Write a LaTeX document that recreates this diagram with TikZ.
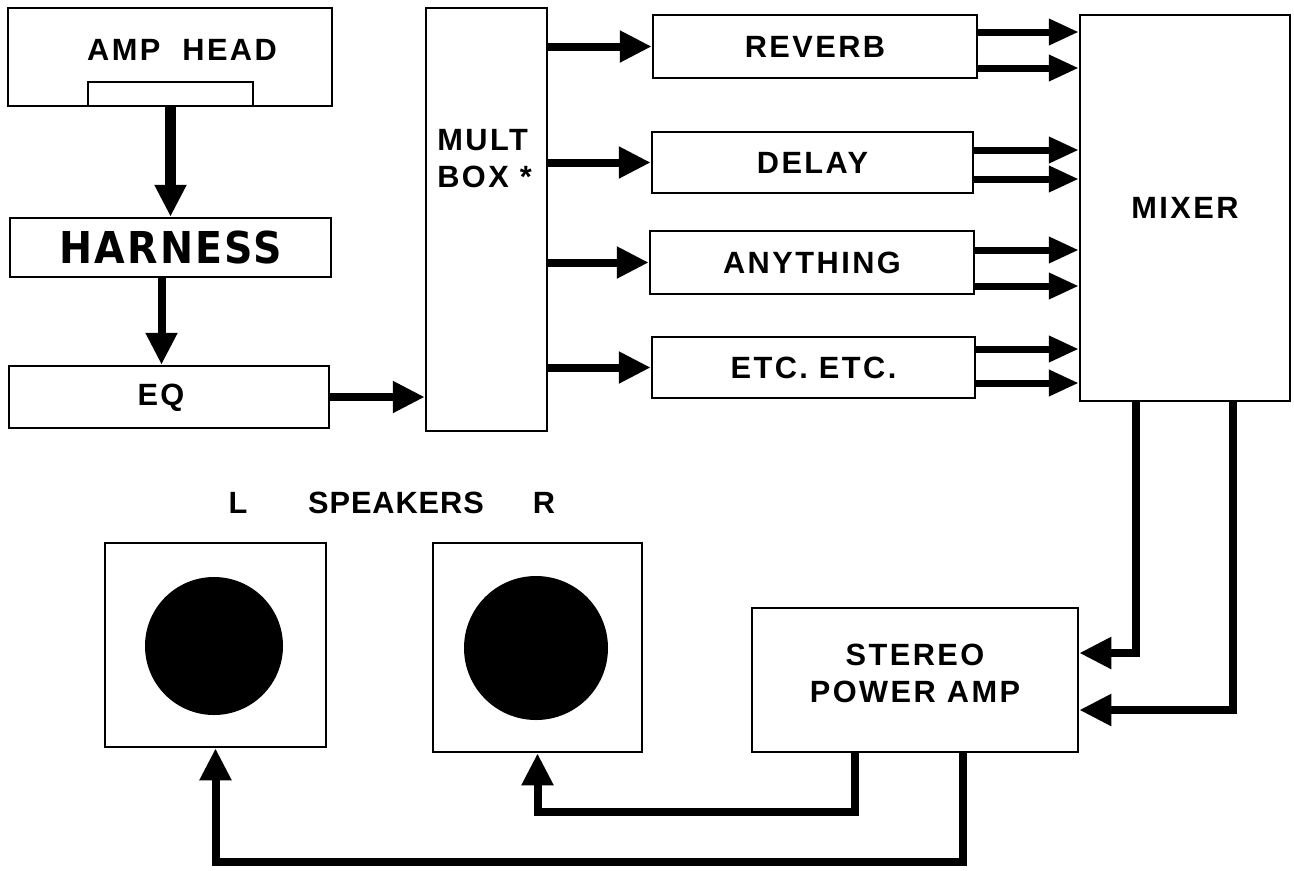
\documentclass[tikz,border=0pt]{standalone}
\usepackage{fontspec}
\setmainfont{Liberation Sans}
\newfontfamily\harnessfont{DejaVu Sans Condensed}
\usetikzlibrary{arrows.meta,calc}
\newcommand\lbl{\fontsize{17.5}{21}\selectfont\bfseries\addfontfeatures{LetterSpace=8}}
\tikzset{
  blk/.style 2 args={draw,line width=0.05cm,inner sep=0pt,fill=white,
    minimum width=#1*0.02cm,minimum height=#2*0.02cm,font=\lbl},
  cone/.style={circle,fill=black,inner sep=0pt,minimum size=#1*0.02cm},
  tag/.style={inner sep=0pt,font=\lbl},
  feed/.style={line width=0.16cm,-{Triangle[length=0.64cm,width=0.6cm]}},
  send/.style={line width=0.14cm,-{Triangle[length=0.6cm,width=0.5cm]}},
}
\begin{document}
\begin{tikzpicture}[x=0.02cm,y=-0.02cm]
  \useasboundingbox (0,0) rectangle (1294,870);
  % chain on the left
  \node[blk={324}{98}] (amphead) at (170,57) {};
  \node[tag] (ampheadtxt) at (182,50) {AMP\ \ HEAD};
  \node[blk={165}{24}] (jack) at (170.5,94) {};
  \node[blk={321}{59},font=\harnessfont\fontsize{25}{30}\selectfont\bfseries\addfontfeatures{LetterSpace=5}] (harness) at (170.5,247.5) {HARNESS};
  \node[blk={320}{62}] (eq) at (169,397) {};
  \node[tag] (eqtxt) at (161,398) {EQ};
  \node[blk={121}{423}] (mult) at (486.5,219.5) {};
  \node[tag,align=left,anchor=north west] (multtxt) at (437,129) {MULT\\BOX *};
  % effects
  \node[blk={324}{63}] (reverb) at (815,46.5) {REVERB};
  \node[blk={321}{61}] (delay) at (812.5,162.5) {DELAY};
  \node[blk={324}{63}] (anything) at (812,262.5) {ANYTHING};
  \node[blk={323}{61}] (etc) at (813.5,367.5) {ETC. ETC.};
  \node[blk={210}{386}] (mixer) at (1185,208) {MIXER};
  \node[blk={326}{144}] (poweramp) at (915,680) {};
  \node[tag,align=center] (poweramptxt) at (915,673) {STEREO\\POWER AMP};
  % speakers
  \node[tag] (lefttag) at (238,503) {L};
  \node[tag,font=\fontsize{17.5}{21}\selectfont\bfseries\addfontfeatures{LetterSpace=3}] (spktag) at (396,503) {SPEAKERS};
  \node[tag] (righttag) at (544,503) {R};
  \node[blk={221}{204}] (spkL) at (215.5,645) {};
  \node[blk={209}{209}] (spkR) at (537.5,647.5) {};
  \node[cone=138] (coneL) at (214,646) {};
  \node[cone=144] (coneR) at (536,648) {};
  % signal path
  \draw[feed,line width=0.22cm] (jack.south) -- (jack.south |- harness.north);
  \draw[feed] ($(harness.south)+(-9,0)$) -- ($(harness.south |- eq.north)+(-9,0)$);
  \draw[feed] (eq.east) -- (eq.east -| mult.west);
  \foreach \fx in {reverb,delay,anything,etc}
    \draw[feed] (mult.east |- \fx.west) -- (\fx.west);
  \foreach \fx/\ya/\yb in {reverb/32/68,delay/150/179,anything/250/286,etc/349/383}{
    \draw[send] (\fx.east |- 0,\ya) -- (mixer.west |- 0,\ya);
    \draw[send] (\fx.east |- 0,\yb) -- (mixer.west |- 0,\yb);
  }
  \draw[feed] ($(mixer.south)+(-49,0)$) |- ($(poweramp.east)+(0,-27)$);
  \draw[feed] ($(mixer.south)+(48,0)$) |- ($(poweramp.east)+(0,30)$);
  \draw[feed] ($(poweramp.south)+(-60,0)$) |- (0,812 -| spkR.south) -- (spkR.south);
  \draw[feed] ($(poweramp.south)+(48,0)$) |- (0,862 -| spkL.south) -- (spkL.south);
\end{tikzpicture}
\end{document}
